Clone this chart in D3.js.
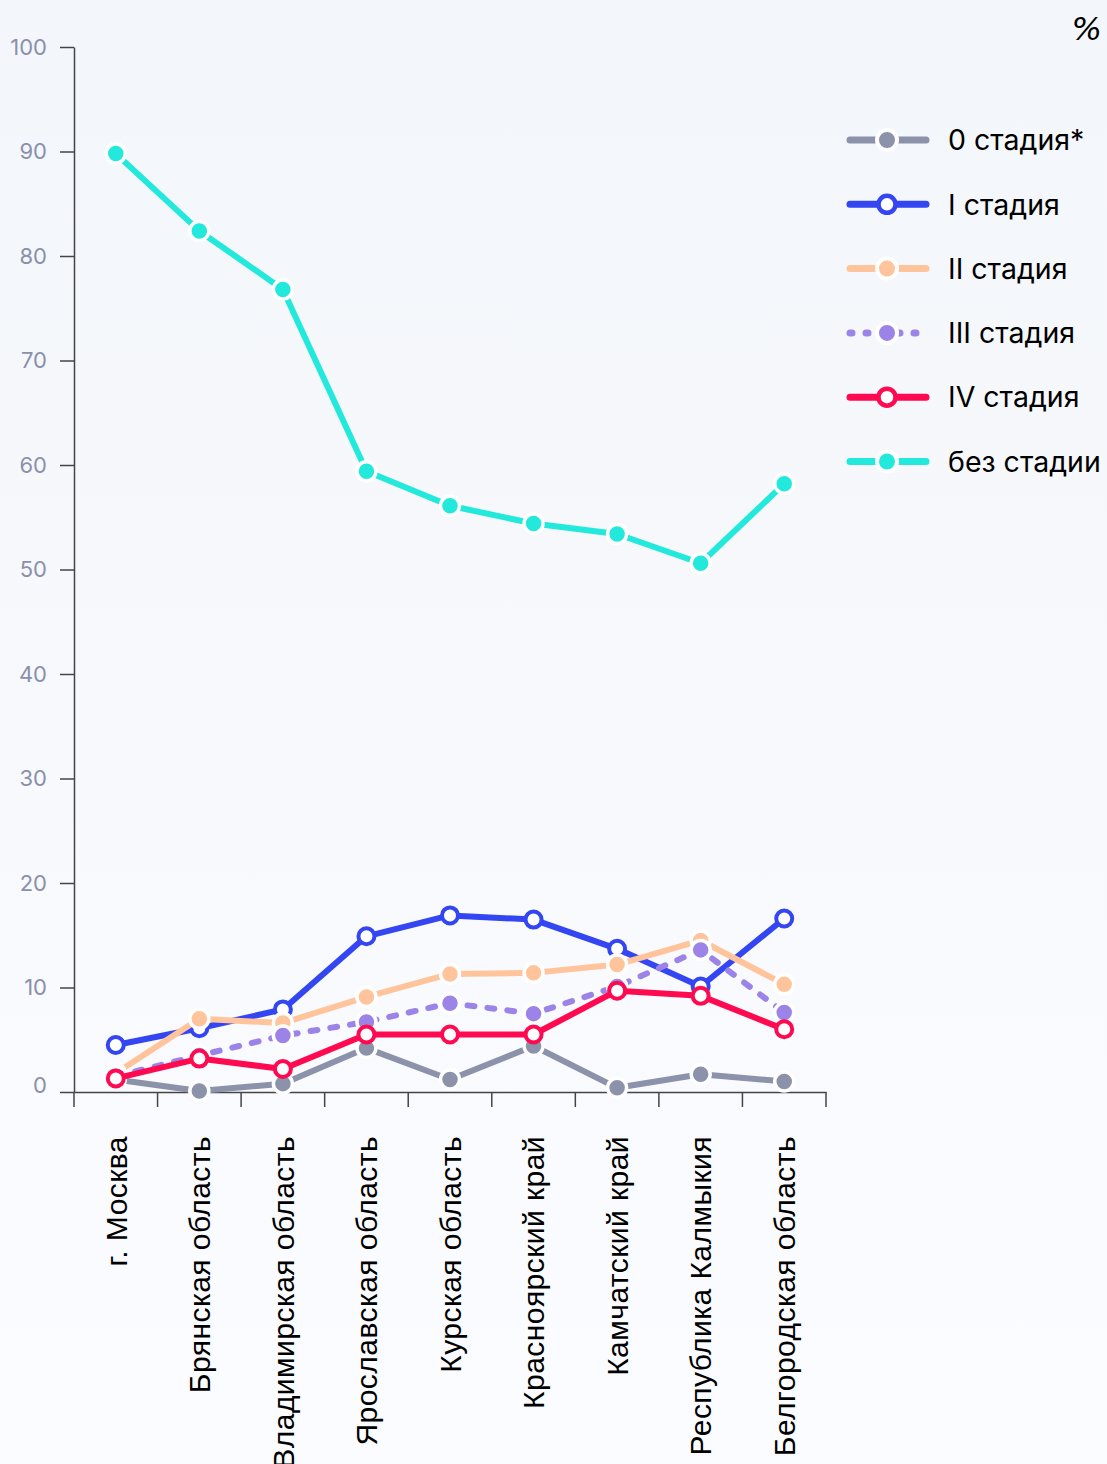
<!DOCTYPE html>
<html><head><meta charset="utf-8">
<script src="https://cdn.jsdelivr.net/npm/d3@7"></script>
<style>
html,body{margin:0;padding:0;}
body{width:1107px;height:1464px;overflow:hidden;}
</style></head>
<body>
<svg id="chart" width="1107" height="1464"></svg>
<script>
const categories = ["г. Москва","Брянская область","Владимирская область","Ярославская область","Курская область","Красноярский край","Камчатский край","Республика Калмыкия","Белгородская область"];
const seriesNames = ["0 стадия*","I стадия","II стадия","III стадия","IV стадия","без стадии"];
const stage0 = [1.2, 0.1, 0.8, 4.2, 1.2, 4.4, 0.4, 1.7, 1.0];
const stage1 = [4.5, 6.1, 7.9, 14.9, 16.9, 16.5, 13.7, 10.1, 16.6];
const stage2 = [1.8, 7.0, 6.6, 9.1, 11.3, 11.4, 12.2, 14.5, 10.3];
const stage3 = [1.5, 3.5, 5.4, 6.7, 8.5, 7.5, 10.1, 13.6, 7.6];
const stage4 = [1.3, 3.2, 2.2, 5.5, 5.5, 5.5, 9.7, 9.2, 6.0];
const noStage = [89.8, 82.4, 76.8, 59.4, 56.1, 54.4, 53.4, 50.6, 58.2];
const yTicks = [0,10,20,30,40,50,60,70,80,90,100];
const unitLabel = "%";

const values = [stage0, stage1, stage2, stage3, stage4, noStage];
const colors = ["#8b92a9","#3346f2","#ffc49c","#9b83e8","#ff0a50","#22e9dc"];
const hollow = [false,true,false,false,true,false];
const dashed = [false,false,false,true,false,false];

const svg = d3.select("#chart");
const defs = svg.append("defs");
const grad = defs.append("linearGradient").attr("id","bg").attr("x1",0).attr("x2",0).attr("y1",0).attr("y2",1);
grad.append("stop").attr("offset","0%").attr("stop-color","#f3f6fa");
grad.append("stop").attr("offset","100%").attr("stop-color","#fbfcff");
svg.append("rect").attr("width",1107).attr("height",1464).attr("fill","url(#bg)");

const x = d3.scaleBand().domain(categories).range([74, 826]);
const y = d3.scaleLinear().domain([0,100]).range([1092, 47]);

// y axis
const yAxis = svg.append("g").attr("transform","translate(74,0)")
  .call(d3.axisLeft(y).tickValues(yTicks).tickSize(14).tickPadding(27).tickSizeOuter(0));
yAxis.select(".domain").attr("stroke","#444").attr("stroke-width",1.5);
yAxis.selectAll(".tick line").attr("stroke","#444").attr("stroke-width",1.5);
yAxis.selectAll(".tick text").attr("fill","#8a90ab").attr("x",-27)
  .style("font-family","Inter, sans-serif").style("font-size","22px")
  .attr("dy", d => d === 0 ? "-0.0em" : "0.32em");

// x axis
const xAxis = svg.append("g").attr("transform","translate(0,1092)")
  .call(d3.axisBottom(x).tickSize(0).tickSizeOuter(0));
xAxis.select(".domain").attr("stroke","#444").attr("stroke-width",1.5);
xAxis.selectAll(".tick text")
  .attr("fill","#000")
  .style("font-family","'Liberation Sans', Arial, sans-serif")
  .style("font-size","30px")
  .style("letter-spacing","0.45px")
  .attr("text-anchor","end")
  .attr("dy","0.36em")
  .attr("transform","translate(0,44) rotate(-90)")
  .attr("x",0).attr("y",0);
// boundary ticks
const bounds = categories.map(c => x(c)).concat([x.range()[1]]);
xAxis.selectAll(".btick").data(bounds).enter().append("line")
  .attr("x1",d=>d).attr("x2",d=>d).attr("y1",0).attr("y2",15)
  .attr("stroke","#444").attr("stroke-width",1.5);

const cx = c => x(c) + x.bandwidth()/2;

values.forEach((vals, si) => {
  const g = svg.append("g");
  const line = d3.line().x((d,i)=>cx(categories[i])).y(d=>y(d));
  g.append("path").datum(vals).attr("d", line)
    .attr("fill","none").attr("stroke",colors[si]).attr("stroke-width",6)
    .attr("stroke-linecap","round").attr("stroke-linejoin","round")
    .attr("stroke-dasharray", dashed[si] ? "7,13" : null);
  g.selectAll("circle").data(vals).enter().append("circle")
    .attr("cx",(d,i)=>cx(categories[i])).attr("cy",d=>y(d))
    .attr("r", hollow[si] ? 8 : 9.5)
    .attr("fill", hollow[si] ? "#fff" : colors[si])
    .attr("stroke", hollow[si] ? colors[si] : "#fff")
    .attr("stroke-width", hollow[si] ? 4 : 3.5);
});

// legend
const lg = svg.append("g");
seriesNames.forEach((name, si) => {
  const yy = 140 + si*64.3;
  lg.append("line").attr("x1",850).attr("x2",926).attr("y1",yy).attr("y2",yy)
    .attr("stroke",colors[si]).attr("stroke-width",7).attr("stroke-linecap","round")
    .attr("stroke-dasharray", dashed[si] ? "2,14" : null);
  lg.append("circle").attr("cx",887).attr("cy",yy)
    .attr("r", hollow[si] ? 8.5 : 10)
    .attr("fill", hollow[si] ? "#fff" : colors[si])
    .attr("stroke", hollow[si] ? colors[si] : "#fff")
    .attr("stroke-width", hollow[si] ? 4.5 : 4);
  lg.append("text").attr("x",948).attr("y",yy).attr("dy","0.36em")
    .style("font-family","Inter, sans-serif").style("font-size","28.5px").attr("fill","#000")
    .text(name);
});

svg.append("text").attr("x",1102).attr("y",40).attr("text-anchor","end")
  .style("font-family","'DejaVu Sans', sans-serif").style("font-size","32px").style("font-style","italic")
  .attr("fill","#000").text(unitLabel);
</script>
</body></html>
